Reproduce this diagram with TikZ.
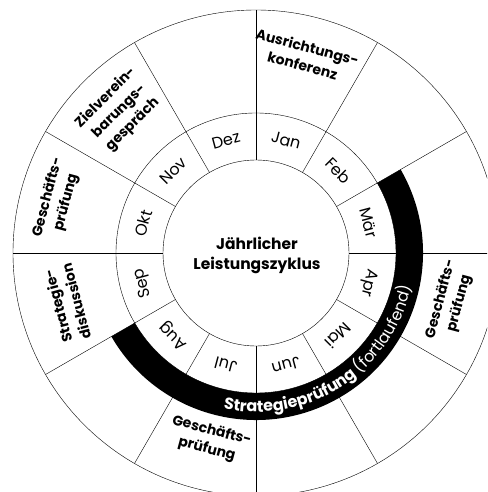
\documentclass[tikz,border=0pt]{standalone}
\usepackage{fontspec}
\setmainfont{Poppins}
\usetikzlibrary{decorations.text}

\begin{document}
\begin{tikzpicture}[x=1pt, y=1pt,
  month/.style={font=\fontsize{16}{18}\selectfont, inner sep=0pt},
  phase/.style={font=\fontsize{14}{19}\selectfont\bfseries, align=center, inner sep=0pt}]
  \def\Ri{93}    % inner circle
  \def\Rm{140}   % month ring
  \def\Rb{167}   % band
  \def\Ro{243}   % outer circle
  \def\Rt{159}   % band text
  \useasboundingbox (-256,-239) rectangle (231,253);
  \clip (-256,-239) rectangle (231,253);

  \draw (0,0) circle (\Ri);
  \draw (0,0) circle (\Rm);
  \draw (0,0) circle (\Ro);
  \foreach \a in {0,30,...,330}
    \draw (\a:\Ri) -- (\a:\Ro);

  % months
  \foreach \m [count=\i] in {Jan,Feb,Mär,Apr,Mai,Jun,Jul,Aug,Sep,Okt,Nov,Dez} {
    \pgfmathsetmacro\ang{105-30*\i}
    \node[month, rotate=\ang-90] (m\i) at (\ang:116.5) {\m};
  }

  \node[phase, font=\fontsize{15.5}{20}\selectfont\bfseries] (zyklus) at (1,-2) {Jährlicher\\Leistungszyklus};

  % Strategiepruefung band
  \fill (30:\Rm) arc[start angle=30, end angle=-150, radius=\Rm]
    -- (-150:\Rb) arc[start angle=-150, end angle=30, radius=\Rb] -- cycle;
  \path[decorate, decoration={text along path, text color=white, text align=center,
    text={|\fontsize{16}{18}\selectfont\bfseries|Strategieprüfung |\fontsize{16}{18}\selectfont\mdseries|(fortlaufend)}}]
    (-115:\Rt) arc[start angle=-115, end angle=1, radius=\Rt];

  % outer labels
  \node[phase, rotate=-15] (ausrichtung) at (76:203) {Ausrichtungs-\\konferenz};
  \node[phase, rotate=45] (ziel) at (134:197) {Zielverein-\\barungs-\\gespräch};
  \node[phase, rotate=75] (pruefA) at (165:206) {Geschäfts-\\prüfung};
  \node[phase, rotate=105] (strategie) at (195:196) {Strategie-\\diskussion};
  \node[phase, rotate=-15] (pruefB) at (256:193) {Geschäfts-\\prüfung};
  \node[phase, rotate=75] (pruefC) at (346:200) {Geschäfts-\\prüfung};
\end{tikzpicture}
\end{document}
